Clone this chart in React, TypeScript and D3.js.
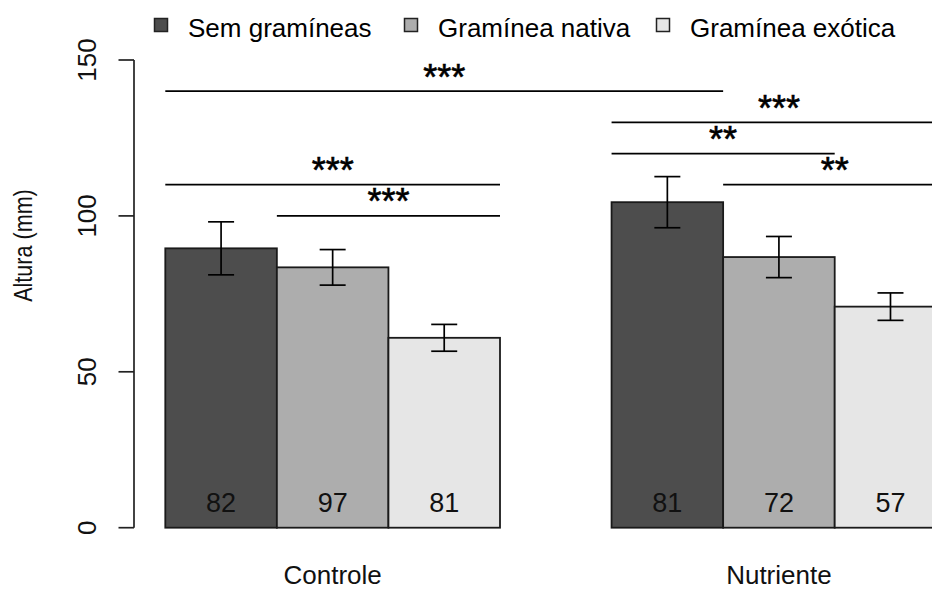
import React from 'react';
import * as d3 from 'd3';

const groups = ['Controle', 'Nutriente'];
const treatments = ['Sem gramíneas', 'Gramínea nativa', 'Gramínea exótica'];
const meansControle = [89.6, 83.5, 60.9];
const meansNutriente = [104.4, 86.8, 70.9];
const seControle = [8.5, 5.7, 4.3];
const seNutriente = [8.2, 6.6, 4.4];
const nControle = [82, 97, 81];
const nNutriente = [81, 72, 57];
const yTicks = [0, 50, 100, 150];

// significance brackets: first bar index, last bar index, height, label
const bracketFrom = [0, 3, 3, 4, 0, 1];
const bracketTo = [3, 5, 4, 5, 2, 2];
const bracketLevel = [140, 130, 120, 110, 110, 100];
const bracketLabel = ['***', '***', '**', '**', '***', '***'];

const fills = ['#4D4D4D', '#ADADAD', '#E6E6E6'];
const FONT = '"Liberation Sans", Arial, sans-serif';

const W = 932;
const H = 590;

export default function App() {
  // R barplot style: bar width 1, one unit gap between groups
  const x = d3.scaleLinear().domain([1, 4]).range([165.3, 500]);
  const y = d3.scaleLinear().domain([0, 150]).range([527.7, 60]);

  const means = [meansControle, meansNutriente];
  const ses = [seControle, seNutriente];
  const ns = [nControle, nNutriente];

  const bars = groups.flatMap((g, gi) =>
    treatments.map((t, ti) => ({
      g, gi, t, ti,
      left: 1 + gi * 4 + ti,
      value: means[gi][ti],
      se: ses[gi][ti],
      n: ns[gi][ti],
    }))
  );

  const legendX = [161, 411, 663];

  return (
    <svg
      width={W}
      height={H}
      style={{ position: 'absolute', left: 0, top: 0, background: '#fff' }}
      fontFamily={FONT}
    >
      {/* legend */}
      {treatments.map((t, i) => (
        <g key={t}>
          <rect x={legendX[i] - 6.5} y={18.5} width={13} height={13} fill={fills[i]} stroke="#222" strokeWidth={1.5} />
          <text x={legendX[i] + 27} y={36.5} fontSize={26} fill="#000">{t}</text>
        </g>
      ))}

      {/* bars */}
      {bars.map(b => (
        <rect
          key={`${b.g}-${b.t}`}
          x={x(b.left)}
          y={y(b.value)}
          width={x(b.left + 1) - x(b.left)}
          height={y(0) - y(b.value)}
          fill={fills[b.ti]}
          stroke="#1a1a1a"
          strokeWidth={1.8}
        />
      ))}

      {/* error bars */}
      {bars.map(b => {
        const cx = x(b.left + 0.5);
        return (
          <g key={`e-${b.g}-${b.t}`} stroke="#000" strokeWidth={1.7}>
            <line x1={cx} x2={cx} y1={y(b.value + b.se)} y2={y(b.value - b.se)} />
            <line x1={cx - 13} x2={cx + 13} y1={y(b.value + b.se)} y2={y(b.value + b.se)} />
            <line x1={cx - 13} x2={cx + 13} y1={y(b.value - b.se)} y2={y(b.value - b.se)} />
          </g>
        );
      })}

      {/* sample sizes */}
      {bars.map(b => (
        <text key={`n-${b.g}-${b.t}`} x={x(b.left + 0.5)} y={511.5} fontSize={27} textAnchor="middle" fill="#111">
          {b.n}
        </text>
      ))}

      {/* brackets */}
      {bracketLabel.map((lab, i) => {
        const x1 = x(bars[bracketFrom[i]].left);
        const x2 = x(bars[bracketTo[i]].left + 1);
        const yy = y(bracketLevel[i]);
        return (
          <g key={`br-${i}`}>
            <line x1={x1} x2={x2} y1={yy} y2={yy} stroke="#000" strokeWidth={1.7} />
            <text x={(x1 + x2) / 2} y={yy - 1.5} fontSize={36} textAnchor="middle" fill="#000" stroke="#000" strokeWidth={0.6}>{lab}</text>
          </g>
        );
      })}

      {/* y axis */}
      <line x1={134} x2={134} y1={y(150)} y2={y(0)} stroke="#222" strokeWidth={1.7} />
      {yTicks.map(t => (
        <g key={t}>
          <line x1={118.5} x2={134} y1={y(t)} y2={y(t)} stroke="#222" strokeWidth={1.7} />
          <text transform={`translate(96,${y(t)}) rotate(-90)`} fontSize={26} textAnchor="middle" fill="#111">{t}</text>
        </g>
      ))}
      <text transform="translate(32,245.5) rotate(-90) scale(0.83,1)" fontSize={26} textAnchor="middle" fill="#111">Altura (mm)</text>

      {/* group labels */}
      {groups.map((g, gi) => (
        <text key={g} x={x(1 + gi * 4 + 1.5)} y={584} fontSize={26} textAnchor="middle" fill="#111">{g}</text>
      ))}
    </svg>
  );
}
